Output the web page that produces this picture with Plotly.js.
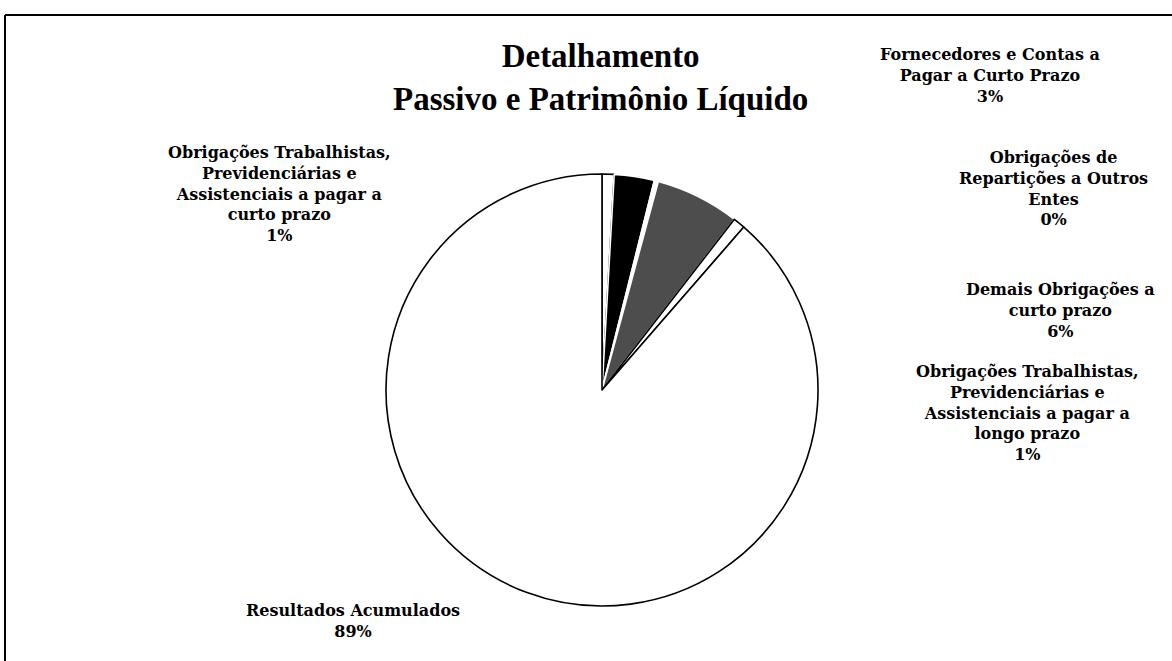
<!DOCTYPE html>
<html>
<head>
<meta charset="utf-8">
<script src="https://cdn.plot.ly/plotly-3.0.1.min.js"></script>
<style>html,body{margin:0;padding:0;background:#fff;}#chart{width:1172px;height:661px;}</style>
</head>
<body>
<div id="chart"></div>
<script>
// Slices in clockwise order starting at 12 o'clock
const categories = [
  "Obrigações Trabalhistas,<br>Previdenciárias e<br>Assistenciais a pagar a<br>curto prazo",
  "Fornecedores e Contas a<br>Pagar a Curto Prazo",
  "Obrigações de<br>Repartições a Outros<br>Entes",
  "Demais Obrigações a<br>curto prazo",
  "Obrigações Trabalhistas,<br>Previdenciárias e<br>Assistenciais a pagar a<br>longo prazo",
  "Resultados Acumulados"
];
const values = [0.9, 3.0, 0.3, 6.3, 0.9, 88.6];
const sliceColors = ["#ffffff", "#000000", "#ffffff", "#4d4d4d", "#ffffff", "#ffffff"];
const edgeColors = ["#000000", "#ffffff", "#ffffff", "#ffffff", "#000000", "#000000"];
// label anchor positions (figure pixels, centre of text block)
const labelX = [279, 990, 1053, 1060, 1027, 353];
const labelY = [194, 75, 188, 311, 413, 621];

const W = 1172, H = 661;
const total = values.reduce((a, b) => a + b, 0);
const pctText = values.map(v => Math.round(v / total * 100) + "%");

const annotations = categories.map((c, i) => ({
  x: labelX[i] / W, y: 1 - labelY[i] / H, xref: "paper", yref: "paper",
  xanchor: "center", yanchor: "middle", showarrow: false, align: "center",
  text: "<b>" + c + "<br>" + pctText[i] + "</b>",
  font: {family: "DejaVu Serif, Liberation Serif, serif", size: 16, color: "#000"}
}));
annotations.push({
  x: 600 / W, y: 1 - 77 / H, xref: "paper", yref: "paper",
  xanchor: "center", yanchor: "middle", showarrow: false, align: "center",
  text: "<b>Detalhamento<br>Passivo e Patrimônio Líquido</b>",
  font: {family: "Liberation Serif, Times New Roman, serif", size: 33, color: "#000"}
});

const cx = 602, cy = 390, r = 216;
const data = [{
  type: "pie",
  labels: categories.map(s => s.replace(/<br>/g, " ")),
  values: values,
  sort: false,
  direction: "clockwise",
  rotation: 0,
  textinfo: "none",
  hoverinfo: "label+percent",
  showlegend: false,
  marker: {colors: sliceColors, line: {color: edgeColors, width: 1.6}},
  domain: {x: [(cx - r) / W, (cx + r) / W], y: [1 - (cy + r) / H, 1 - (cy - r) / H]}
}];

const layout = {
  width: W, height: H,
  margin: {l: 0, r: 0, t: 0, b: 0},
  paper_bgcolor: "#fff",
  showlegend: false,
  annotations: annotations,
  shapes: [
    {type: "line", xref: "paper", yref: "paper", x0: 5 / W, x1: 1, y0: 1 - 15 / H, y1: 1 - 15 / H, line: {color: "#000", width: 2}},
    {type: "line", xref: "paper", yref: "paper", x0: 5 / W, x1: 5 / W, y0: 0, y1: 1 - 15 / H, line: {color: "#000", width: 2}}
  ]
};

Plotly.newPlot("chart", data, layout, {displayModeBar: false, staticPlot: true});
</script>
</body>
</html>
